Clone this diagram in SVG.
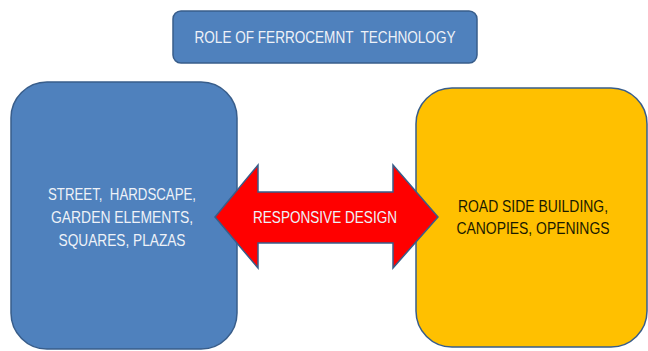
<svg xmlns="http://www.w3.org/2000/svg" width="648" height="351" viewBox="0 0 648 351">
  <style>
    .lbl { font-family: "Liberation Sans", Arial, sans-serif; font-size: 17px; text-anchor: middle; white-space: pre; }
    .light { fill: #eef2f8; }
    .dark { fill: #1a1a00; }
    .blue { fill: #4f81bd; stroke: #385d8a; stroke-width: 1.5; }
    .yellow { fill: #ffc000; stroke: #385d8a; stroke-width: 1.5; }
  </style>
  <rect width="648" height="351" fill="#ffffff"/>

  <g id="title">
    <rect class="blue" x="173" y="11" width="304" height="52" rx="8"/>
    <text class="lbl light" x="325" y="43" textLength="261" lengthAdjust="spacingAndGlyphs" xml:space="preserve">ROLE OF FERROCEMNT  TECHNOLOGY</text>
  </g>

  <g id="left-node">
    <rect class="blue" x="11" y="82" width="226" height="267" rx="36"/>
    <text class="lbl light" x="122" y="200" textLength="148" lengthAdjust="spacingAndGlyphs" xml:space="preserve">STREET,  HARDSCAPE,</text>
    <text class="lbl light" x="122" y="223" textLength="142" lengthAdjust="spacingAndGlyphs">GARDEN ELEMENTS,</text>
    <text class="lbl light" x="122" y="246" textLength="127" lengthAdjust="spacingAndGlyphs">SQUARES, PLAZAS</text>
  </g>

  <g id="right-node">
    <rect class="yellow" x="416" y="88" width="231" height="259" rx="36"/>
    <text class="lbl dark" x="533" y="212" textLength="150" lengthAdjust="spacingAndGlyphs">ROAD SIDE BUILDING,</text>
    <text class="lbl dark" x="533" y="234" textLength="153" lengthAdjust="spacingAndGlyphs">CANOPIES, OPENINGS</text>
  </g>

  <g id="connectors">
    <path d="M215,217 L258,165 L258,192 L393,192 L393,165 L438,217 L393,268 L393,243 L258,243 L258,268 Z"
          fill="#ff0000" stroke="#385d8a" stroke-width="1.5" stroke-linejoin="miter"/>
    <text class="lbl light" x="325" y="223" textLength="144" lengthAdjust="spacingAndGlyphs">RESPONSIVE DESIGN</text>
  </g>
</svg>
